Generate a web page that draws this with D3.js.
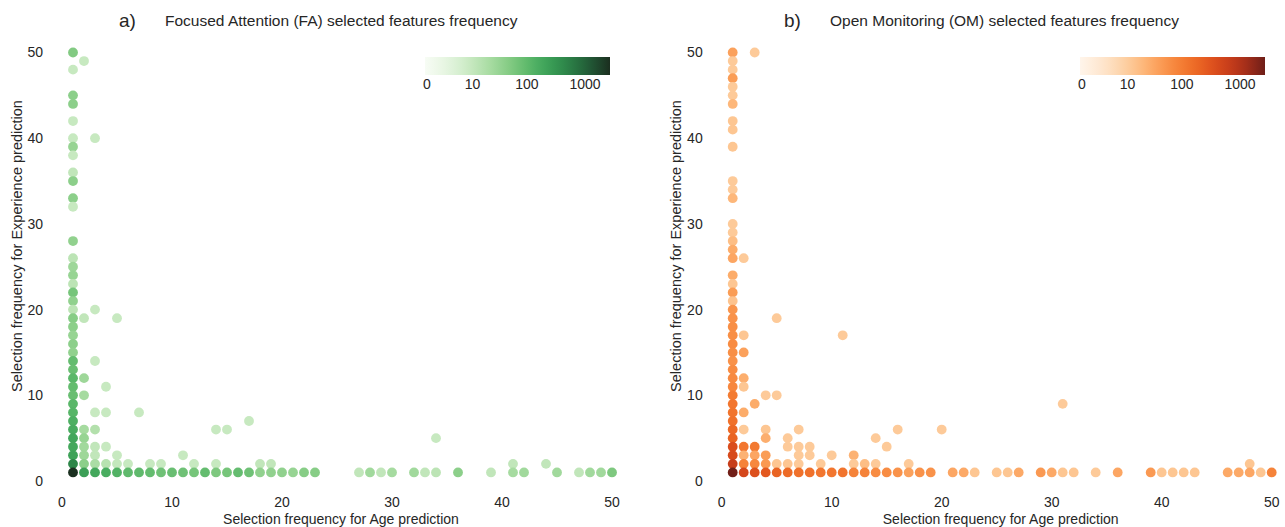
<!DOCTYPE html>
<html lang="en">
<head>
  <meta charset="utf-8">
  <title>Selected features frequency</title>
  <script src="https://cdn.jsdelivr.net/npm/d3@7/dist/d3.min.js"></script>
<style>
body{
  margin:0px;
  background-color:#fff;
  overflow:hidden;
}
svg text{font-family:"Liberation Sans", Arial, sans-serif; fill:#262626;}
</style>
</head>
<body>
<svg id="chart" width="1285" height="527"></svg>
<script>

// [age frequency, experience frequency, number of features]
var faPoints = [
  [1,50,55],[1,48,10],[1,45,45],[1,44,45],[1,42,10],[1,40,10],[1,39,35],[1,38,10],[1,36,12],
  [1,35,45],[1,33,45],[1,32,10],[1,28,40],[1,26,14],[1,25,30],[1,24,35],[1,23,14],[1,22,70],
  [1,21,40],[1,20,14],[1,19,50],[1,18,45],[1,17,35],[1,16,45],[1,15,40],[1,14,100],[1,13,90],
  [1,12,120],[1,11,100],[1,10,90],[1,9,120],[1,8,130],[1,7,160],[1,6,180],[1,5,210],[1,4,200],
  [1,3,240],[1,2,500],[1,1,2800],
  [2,49,10],[2,19,12],[2,12,30],[2,10,25],[2,6,25],[2,5,35],[2,4,28],[2,3,30],[2,2,45],[2,1,260],
  [3,40,10],[3,20,10],[3,14,10],[3,8,10],[3,6,18],[3,4,12],[3,3,12],[3,2,22],[3,1,200],
  [4,11,10],[4,8,10],[4,4,10],[4,2,16],[4,1,170],
  [5,19,10],[5,3,10],[5,2,11],[5,1,140],
  [6,2,10],[6,1,110],
  [7,8,10],[7,1,110],
  [8,2,10],[8,1,100],
  [9,2,10],[9,1,80],
  [10,1,90],
  [11,3,10],[11,1,80],
  [12,2,10],[12,1,70],
  [13,1,100],
  [14,6,10],[14,2,10],[14,1,60],
  [15,6,10],[15,1,70],
  [16,1,100],
  [17,7,10],[17,1,80],
  [18,2,12],[18,1,40],
  [19,2,12],[19,1,40],
  [20,1,40],[21,1,35],[22,1,50],[23,1,50],
  [27,1,12],[28,1,28],[29,1,12],[30,1,25],[32,1,28],[33,1,12],[34,5,10],[34,1,14],
  [36,1,45],[39,1,12],[41,2,12],[41,1,25],[42,1,28],[44,2,12],[45,1,28],
  [47,1,12],[48,1,28],[49,1,28],[50,1,60]
];

var omPoints = [
  [1,50,40],[1,49,12],[1,48,12],[1,47,45],[1,46,12],[1,45,12],[1,44,22],[1,42,14],[1,41,14],
  [1,39,14],[1,35,12],[1,34,12],[1,33,22],[1,30,12],[1,29,12],[1,28,18],[1,27,30],[1,26,35],
  [1,24,30],[1,23,14],[1,22,45],[1,21,15],[1,20,55],[1,19,60],[1,18,65],[1,17,65],[1,16,70],
  [1,15,65],[1,14,60],[1,13,70],[1,12,75],[1,11,80],[1,10,110],[1,9,130],[1,8,140],[1,7,150],
  [1,6,190],[1,5,220],[1,4,420],[1,3,460],[1,2,700],[1,1,2800],
  [2,26,12],[2,17,14],[2,15,40],[2,12,28],[2,11,14],[2,8,30],[2,6,12],[2,4,130],[2,3,25],[2,2,90],[2,1,500],
  [3,50,12],[3,9,30],[3,4,120],[3,3,35],[3,2,80],[3,1,380],
  [4,10,12],[4,6,14],[4,5,28],[4,3,45],[4,2,50],[4,1,300],
  [5,19,12],[5,10,12],[5,2,14],[5,1,220],
  [6,5,12],[6,4,12],[6,2,14],[6,1,180],
  [7,6,12],[7,4,12],[7,3,12],[7,2,12],[7,1,150],
  [8,4,12],[8,3,12],[8,1,150],
  [9,2,12],[9,1,130],
  [10,3,12],[10,1,130],
  [11,17,12],[11,1,140],
  [12,3,25],[12,2,12],[12,1,90],
  [13,2,18],[13,1,90],
  [14,5,12],[14,2,12],[14,1,70],
  [15,4,12],[15,1,70],
  [16,6,12],[16,1,60],
  [17,2,12],[17,1,40],
  [18,1,60],[19,1,60],[20,6,12],[21,1,35],[22,1,32],[23,1,14],[25,1,14],[26,1,14],[27,1,32],
  [29,1,50],[30,1,32],[31,9,12],[31,1,14],[32,1,14],[34,1,12],[36,1,35],[39,1,50],[40,1,14],
  [41,1,14],[42,1,14],[43,1,14],[46,1,32],[47,1,32],[48,2,14],[48,1,35],[49,1,14],[50,1,90]
];

var axisTicks = [0, 10, 20, 30, 40, 50];
var colorTicks = [0, 10, 100, 1000];
var countMax = 2900;
var panelLabels = ["a)", "b)"];
var panelTitles = ["Focused Attention (FA) selected features frequency",
                   "Open Monitoring (OM) selected features frequency"];
var xTitle = "Selection frequency for Age prediction";
var yTitle = "Selection frequency for Experience prediction";

var greenStops = ["#f7fcf5","#e5f5e0","#c7e9c0","#a1d99b","#74c476","#41ab5d","#2e8b4a","#22603a","#1b2e1f"];
var orangeStops = ["#fff5eb","#fee6ce","#fdd0a2","#fdae6b","#f8893e","#ee6a23","#d9471b","#b3321a","#6e1e18"];

var svg = d3.select("#chart");

var panels = [
  {points: faPoints, stops: greenStops, left: 62, cbLeft: 425, labelX: 119, titleX: 165, yLabX: 17},
  {points: omPoints, stops: orangeStops, left: 721.7, cbLeft: 1080, labelX: 784, titleX: 830, yLabX: 676}
];

panels.forEach(function(p, i){
  var g = svg.append("g");

  var x = d3.scaleLinear().domain([0, 50]).range([p.left, p.left + 550]);
  var y = d3.scaleLinear().domain([0, 50]).range([481, 52.5]);

  var interp = d3.interpolateRgbBasis(p.stops);
  var color = d3.scaleSequentialSymlog(interp).domain([0, countMax]).constant(2);

  // x ticks
  g.selectAll(".xt").data(axisTicks).enter().append("text")
    .attr("x", function(d){ return x(d); })
    .attr("y", 507)
    .attr("text-anchor", "middle")
    .style("font-size", "14px")
    .text(function(d){ return d; });

  // y ticks
  g.selectAll(".yt").data(axisTicks).enter().append("text")
    .attr("x", p.left - 19)
    .attr("y", function(d){ return y(d); })
    .attr("dy", "0.35em")
    .attr("text-anchor", "end")
    .style("font-size", "14px")
    .text(function(d){ return d; });

  // axis titles
  g.append("text")
    .attr("x", p.left + 279)
    .attr("y", 524)
    .attr("text-anchor", "middle")
    .style("font-size", "14px")
    .text(xTitle);

  g.append("text")
    .attr("transform", "translate(" + (p.yLabX + 5) + ",246) rotate(-90)")
    .attr("text-anchor", "middle")
    .style("font-size", "14.5px")
    .text(yTitle);

  // titles
  g.append("text")
    .attr("x", p.labelX).attr("y", 27)
    .style("font-size", "19px")
    .text(panelLabels[i]);

  g.append("text")
    .attr("x", p.titleX).attr("y", 26)
    .style("font-size", "15.5px")
    .text(panelTitles[i]);

  // points
  g.selectAll("circle").data(p.points).enter().append("circle")
    .attr("cx", function(d){ return x(d[0]); })
    .attr("cy", function(d){ return y(d[1]); })
    .attr("r", 4.9)
    .style("fill", function(d){ return color(d[2]); });

  // colorbar
  var cbW = 185, cbTop = 57, cbH = 18;
  var gradId = "grad" + i;
  var grad = svg.append("defs").append("linearGradient").attr("id", gradId);
  d3.range(0, 1.0001, 0.05).forEach(function(t){
    grad.append("stop").attr("offset", (t * 100) + "%").attr("stop-color", interp(t));
  });
  g.append("rect")
    .attr("x", p.cbLeft).attr("y", cbTop)
    .attr("width", cbW).attr("height", cbH)
    .style("fill", "url(#" + gradId + ")");

  var cbScale = d3.scaleSymlog().constant(2).domain([0, countMax]).range([p.cbLeft, p.cbLeft + cbW]);
  g.selectAll(".ct").data(colorTicks).enter().append("text")
    .attr("x", function(d){ return cbScale(d) + 2; })
    .attr("y", 89)
    .attr("text-anchor", "middle")
    .style("font-size", "14px")
    .text(function(d){ return d; });
});

</script>
</body>
</html>
